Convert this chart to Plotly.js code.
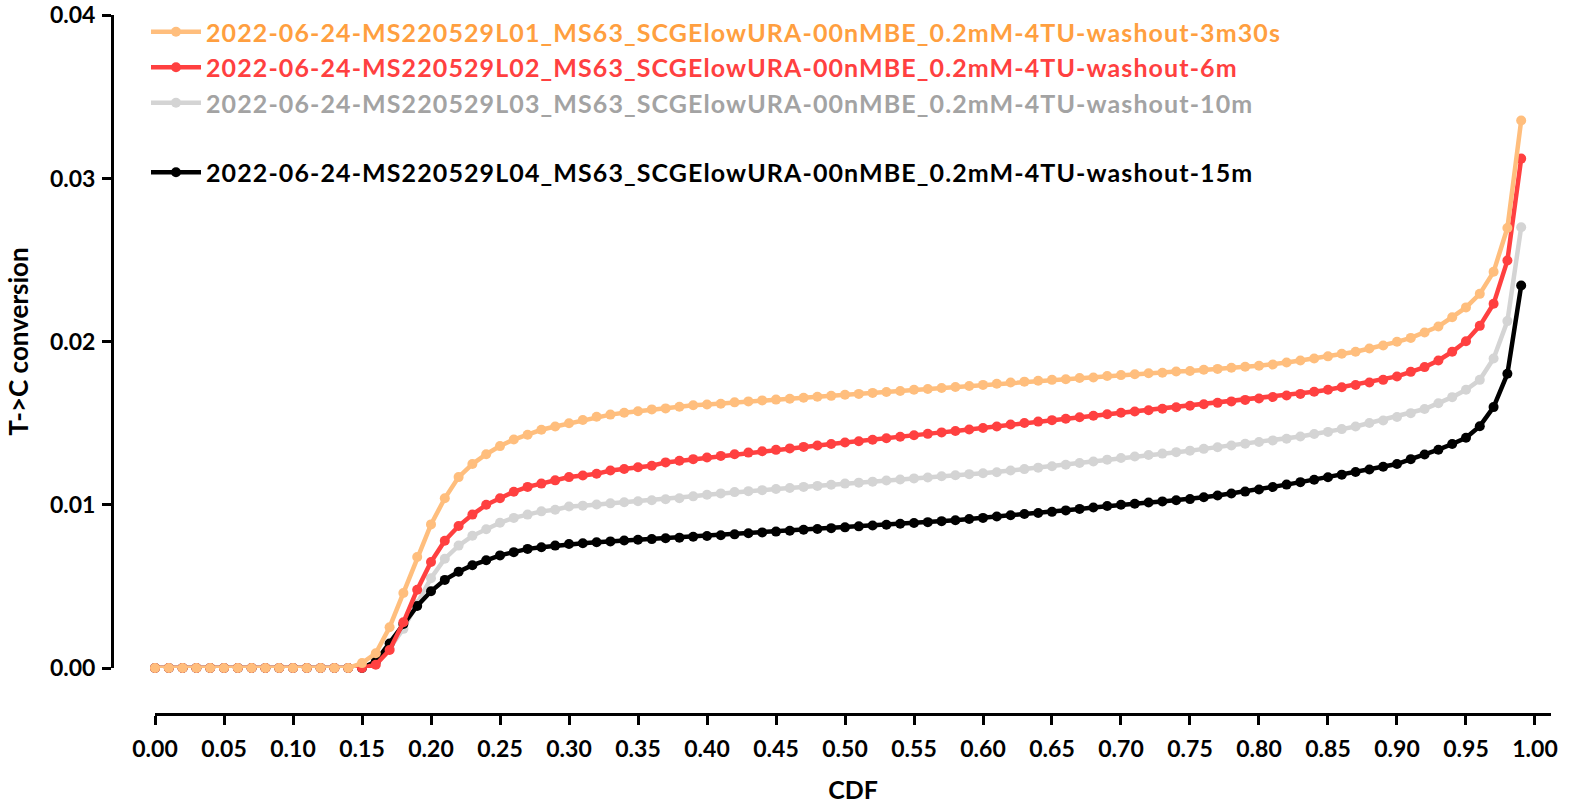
<!DOCTYPE html>
<html>
<head>
<meta charset="utf-8">
<script src="https://cdn.plot.ly/plotly-3.0.1.min.js"></script>
<style>html,body{margin:0;padding:0;background:#fff;}#chart{width:1572px;height:804px;}</style>
</head>
<body>
<div id="chart"></div>
<script>
const cdf = [0.00,0.01,0.02,0.03,0.04,0.05,0.06,0.07,0.08,0.09,
0.10,0.11,0.12,0.13,0.14,0.15,0.16,0.17,0.18,0.19,
0.20,0.21,0.22,0.23,0.24,0.25,0.26,0.27,0.28,0.29,
0.30,0.31,0.32,0.33,0.34,0.35,0.36,0.37,0.38,0.39,
0.40,0.41,0.42,0.43,0.44,0.45,0.46,0.47,0.48,0.49,
0.50,0.51,0.52,0.53,0.54,0.55,0.56,0.57,0.58,0.59,
0.60,0.61,0.62,0.63,0.64,0.65,0.66,0.67,0.68,0.69,
0.70,0.71,0.72,0.73,0.74,0.75,0.76,0.77,0.78,0.79,
0.80,0.81,0.82,0.83,0.84,0.85,0.86,0.87,0.88,0.89,
0.90,0.91,0.92,0.93,0.94,0.95,0.96,0.97,0.98,0.99];

const washout3m30s = [0,0,0,0,0,0,0,0,0,0,
0,0,0,0,0,0.0003,0.0009,0.0025,0.0046,0.0068,
0.0088,0.0104,0.0117,0.0125,0.0131,0.0136,0.0140,0.0143,0.0146,0.0148,
0.0150,0.0152,0.0154,0.01553,0.01564,0.01574,0.01585,0.01591,0.01601,0.0161,
0.01615,0.0162,0.01628,0.01634,0.0164,0.01645,0.0165,0.01656,0.01662,0.01668,
0.01675,0.0168,0.01686,0.01692,0.01698,0.01705,0.0171,0.01716,0.01722,0.01728,
0.01735,0.01742,0.0175,0.01755,0.0176,0.01766,0.0177,0.01777,0.0178,0.0179,
0.01795,0.018,0.01806,0.0181,0.01817,0.0182,0.01828,0.01833,0.0184,0.01846,
0.01852,0.0186,0.01872,0.01885,0.01897,0.0191,0.01926,0.01938,0.01958,0.01977,
0.01999,0.02023,0.02056,0.02093,0.0215,0.0221,0.02293,0.02428,0.02697,0.03355];

const washout6m = [0,0,0,0,0,0,0,0,0,0,
0,0,0,0,0,0,0.0002,0.0011,0.0028,0.0048,
0.0065,0.0078,0.0087,0.0094,0.0100,0.0104,0.0108,0.0111,0.0113,0.0115,
0.0117,0.0118,0.0119,0.0121,0.0122,0.0123,0.0124,0.0126,0.0127,0.0128,
0.0129,0.0130,0.0131,0.0132,0.01328,0.01337,0.01346,0.01355,0.01364,0.01373,
0.01382,0.0139,0.01399,0.01408,0.01417,0.01426,0.01435,0.01444,0.01453,0.01462,
0.01471,0.0148,0.01492,0.01502,0.0151,0.01519,0.01528,0.01537,0.01546,0.01555,
0.01564,0.01572,0.0158,0.01589,0.01598,0.01607,0.01616,0.01625,0.01634,0.01643,
0.01652,0.01661,0.0167,0.0168,0.01693,0.01705,0.01721,0.01734,0.0175,0.01766,
0.01787,0.01815,0.01844,0.01885,0.01938,0.02003,0.02097,0.02232,0.02497,0.03122];

const washout10m = [0,0,0,0,0,0,0,0,0,0,
0,0,0,0,0,0,0.0003,0.0012,0.0024,0.0039,
0.0055,0.0067,0.0075,0.0081,0.0085,0.0089,0.0092,0.0094,0.0096,0.0097,
0.0099,0.00995,0.01002,0.01009,0.01016,0.01022,0.01028,0.01034,0.0104,0.01052,
0.01062,0.0107,0.01078,0.01084,0.0109,0.01097,0.01103,0.0111,0.01116,0.01123,
0.0113,0.01136,0.01142,0.01149,0.01155,0.01162,0.01168,0.01175,0.01181,0.01188,
0.01194,0.012,0.0121,0.01219,0.01228,0.01236,0.01246,0.01256,0.01266,0.01277,
0.01287,0.01296,0.01305,0.01314,0.01323,0.01332,0.01343,0.01353,0.01364,0.01374,
0.01385,0.01395,0.01405,0.01419,0.01434,0.01447,0.01464,0.0148,0.01501,0.01517,
0.01538,0.01562,0.01587,0.01623,0.0166,0.01705,0.01766,0.01897,0.02126,0.02701];

const washout15m = [0,0,0,0,0,0,0,0,0,0,
0,0,0,0,0,0,0.0004,0.0015,0.0027,0.0038,
0.0047,0.0054,0.0059,0.0063,0.0066,0.0069,0.0071,0.0073,0.0074,0.0075,
0.0076,0.00765,0.00771,0.00776,0.00781,0.00786,0.0079,0.00795,0.00799,0.00804,
0.00809,0.00814,0.00819,0.00826,0.00831,0.00836,0.00841,0.00847,0.00852,0.00857,
0.00862,0.00868,0.00873,0.00878,0.00884,0.00889,0.00894,0.009,0.00906,0.00913,
0.0092,0.00928,0.00936,0.00944,0.0095,0.00957,0.00966,0.00975,0.00984,0.00993,
0.01,0.01007,0.01014,0.01021,0.01028,0.01035,0.01046,0.01057,0.01069,0.01081,
0.01094,0.01109,0.01124,0.01139,0.01154,0.01169,0.01185,0.01201,0.01217,0.01233,
0.0125,0.0128,0.01308,0.01338,0.01373,0.01411,0.01482,0.01599,0.01803,0.02344];

const seriesNames = [
  "2022-06-24-MS220529L01_MS63_SCGElowURA-00nMBE_0.2mM-4TU-washout-3m30s",
  "2022-06-24-MS220529L02_MS63_SCGElowURA-00nMBE_0.2mM-4TU-washout-6m",
  "2022-06-24-MS220529L03_MS63_SCGElowURA-00nMBE_0.2mM-4TU-washout-10m",
  "2022-06-24-MS220529L04_MS63_SCGElowURA-00nMBE_0.2mM-4TU-washout-15m"
];
const lineColors = ["#FFBE7D", "#FF4040", "#D4D4D4", "#000000"];
const textColors = ["#FF9F40", "#FF4040", "#A3A3A3", "#000000"];
const xTickLabels = ["0.00","0.05","0.10","0.15","0.20","0.25","0.30","0.35","0.40","0.45","0.50",
  "0.55","0.60","0.65","0.70","0.75","0.80","0.85","0.90","0.95","1.00"];
const xTickVals = [0,0.05,0.10,0.15,0.20,0.25,0.30,0.35,0.40,0.45,0.50,0.55,0.60,0.65,0.70,0.75,0.80,0.85,0.90,0.95,1.00];
const yTickLabels = ["0.00","0.01","0.02","0.03","0.04"];
const yTickVals = [0,0.01,0.02,0.03,0.04];

const FONT = "Lato, 'Open Sans', sans-serif";

function mk(i, ys, rank, group) {
  return {
    x: cdf, y: ys, type: 'scatter', mode: 'lines+markers',
    name: '<span style="color:' + textColors[i] + ';letter-spacing:1.1px">' + seriesNames[i] + '</span>',
    line: {color: lineColors[i], width: 4.5},
    marker: {color: lineColors[i], size: 10},
    cliponaxis: false,
    legendrank: rank,
    legendgroup: group
  };
}

// drawing order: gray, black, red, orange (orange on top)
const data = [
  mk(2, washout10m, 3, 'a'),
  mk(3, washout15m, 4, 'b'),
  mk(1, washout6m, 2, 'a'),
  mk(0, washout3m30s, 1, 'a')
];

const W = 1572, H = 804;
const plotL = 112, plotR = 1551, plotT = 15, plotB = 714;
const yZeroPx = 668;
const pw = plotR - plotL, ph = plotB - plotT;
const layout = {
  width: W, height: H,
  paper_bgcolor: '#ffffff', plot_bgcolor: 'rgba(0,0,0,0)',
  margin: {l: plotL, r: W - plotR, t: plotT, b: H - plotB, pad: 0, autoexpand: false},
  font: {family: FONT, size: 23, color: '#000', weight: 'bold'},
  showlegend: true,
  legend: {
    xref: 'paper', yref: 'paper',
    x: (146 - plotL) / pw, y: 1 - (9 - plotT) / ph, xanchor: 'left', yanchor: 'top',
    font: {family: FONT, size: 25, color: '#000', weight: 'bold'},
    bgcolor: 'rgba(0,0,0,0)', traceorder: 'grouped', tracegroupgap: 34,
    itemwidth: 50
  },
  xaxis: {
    domain: [(155 - plotL) / pw, 1],
    range: [0, 1.0116],
    anchor: 'free', position: 0,
    tickmode: 'array', tickvals: xTickVals, ticktext: xTickLabels,
    showline: true, linecolor: '#000', linewidth: 3,
    ticks: 'outside', ticklen: 9, tickwidth: 3, tickcolor: '#000',
    ticklabelstandoff: 4, ticklabeloverflow: 'allow',
    showgrid: false, zeroline: false, tickangle: 0,
    tickfont: {family: FONT, size: 23, color: '#000', weight: 'bold'},
    title: {text: 'CDF', font: {family: FONT, size: 25, color: '#000', weight: 'bold'}, standoff: 24}
  },
  yaxis: {
    domain: [(plotB - yZeroPx) / ph, 1],
    range: [0, 0.04002],
    anchor: 'free', position: 0,
    tickmode: 'array', tickvals: yTickVals, ticktext: yTickLabels,
    showline: true, linecolor: '#000', linewidth: 3,
    ticks: 'outside', ticklen: 9, tickwidth: 3, tickcolor: '#000',
    ticklabelstandoff: 2, ticklabeloverflow: 'allow',
    showgrid: false, zeroline: false,
    tickfont: {family: FONT, size: 23, color: '#000', weight: 'bold'},
    title: {text: 'T->C conversion', font: {family: FONT, size: 26, color: '#000', weight: 'bold'}, standoff: 12}
  }
};

Plotly.newPlot('chart', data, layout, {displayModeBar: false, staticPlot: true});
</script>
</body>
</html>
